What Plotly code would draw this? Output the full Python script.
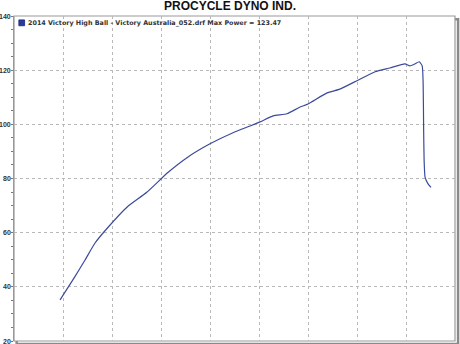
import plotly.graph_objects as go

title_text = "PROCYCLE DYNO IND."
legend_text = "2014 Victory High Ball - Victory Australia_052.drf Max Power = 123.47"

# x in grid units (no labels shown on the original), y = power
x_vals = [0.94, 1.24, 1.45, 1.65, 1.92, 2.31, 2.71, 3.14, 3.53, 4.00, 4.47, 4.82,
          5.02, 5.29, 5.57, 5.84, 6.00, 6.39, 6.65, 7.02, 7.37, 7.67, 7.98, 8.08,
          8.18, 8.27, 8.33, 8.35, 8.36, 8.37, 8.39, 8.45, 8.51]
y_vals = [35.2, 43.7, 49.9, 56.1, 62.0, 69.5, 74.9, 82.2, 87.7, 92.8, 96.9, 99.4,
          100.9, 103.1, 103.9, 106.4, 107.5, 111.6, 113.0, 116.3, 119.4, 120.8, 122.3, 121.6,
          122.3, 123.1, 121.6, 115.0, 98.0, 86.6, 80.4, 78.0, 76.7]

y_ticks = [20, 40, 60, 80, 100, 120, 140]
y_tick_labels = ["20", "40", "60", "80", "100", "120", "140"]

fig = go.Figure()
fig.add_trace(go.Scatter(x=x_vals, y=y_vals, mode="lines", line_shape="spline",
                         line=dict(color="#3b4a9c", width=1.2, smoothing=0.5),
                         showlegend=False, hoverinfo="skip"))

# shadow and frame
fig.add_shape(type="rect", xref="paper", yref="paper",
              x0=0.006, y0=-0.009, x1=1.007, y1=0.99,
              line=dict(color="#8a8a8a", width=2.5), fillcolor="rgba(0,0,0,0)", layer="below")
fig.add_shape(type="rect", xref="paper", yref="paper",
              x0=0, y0=0, x1=1, y1=1,
              line=dict(color="#9a9a9a", width=1.2), fillcolor="white", layer="below")

# y tick labels (placed just left of the axis, like the original)
for v, t in zip(y_ticks, y_tick_labels):
    fig.add_annotation(text="<b>" + t + "</b>", xref="paper", yref="y", x=0, y=v,
                       xanchor="right", yanchor="middle", xshift=-1, showarrow=False,
                       font=dict(family="Liberation Sans", size=7, color="#333333"))

# legend square + text
fig.add_shape(type="rect", xref="paper", yref="paper",
              x0=0.011, y0=0.970, x1=0.024, y1=0.988,
              line=dict(color="#1a237e", width=0.8), fillcolor="#2a3b9a")
fig.add_annotation(text="<b>" + legend_text + "</b>", xref="paper", yref="paper", x=0.027, y=0.979,
                   xanchor="left", yanchor="middle", showarrow=False,
                   font=dict(family="DejaVu Sans", size=6.4, color="#333333"))

fig.update_layout(
    width=460, height=344,
    margin=dict(l=14, r=5, t=16, b=3),
    paper_bgcolor="white", plot_bgcolor="rgba(0,0,0,0)",
    title=dict(text="<b>" + title_text + "</b>", x=0.5, xanchor="center", y=0.995, yanchor="top",
               font=dict(family="Liberation Sans", size=12, color="#111111")),
    xaxis=dict(range=[0, 9], dtick=1, showticklabels=False, ticks="",
               showgrid=True, gridcolor="#b8b8b8", griddash="dot", gridwidth=1,
               zeroline=False, showline=False),
    yaxis=dict(range=[20, 140], tickvals=y_ticks, showticklabels=False,
               ticks="outside", ticklen=2,
               tickcolor="#777", showline=True, linecolor="#999", linewidth=1,
               showgrid=True, gridcolor="#b8b8b8", griddash="dot", gridwidth=1,
               zeroline=False, automargin=False,
               minor=dict(dtick=5, ticks="outside", ticklen=2, tickcolor="#777", showgrid=False)),
)

fig.write_html("out.html")
